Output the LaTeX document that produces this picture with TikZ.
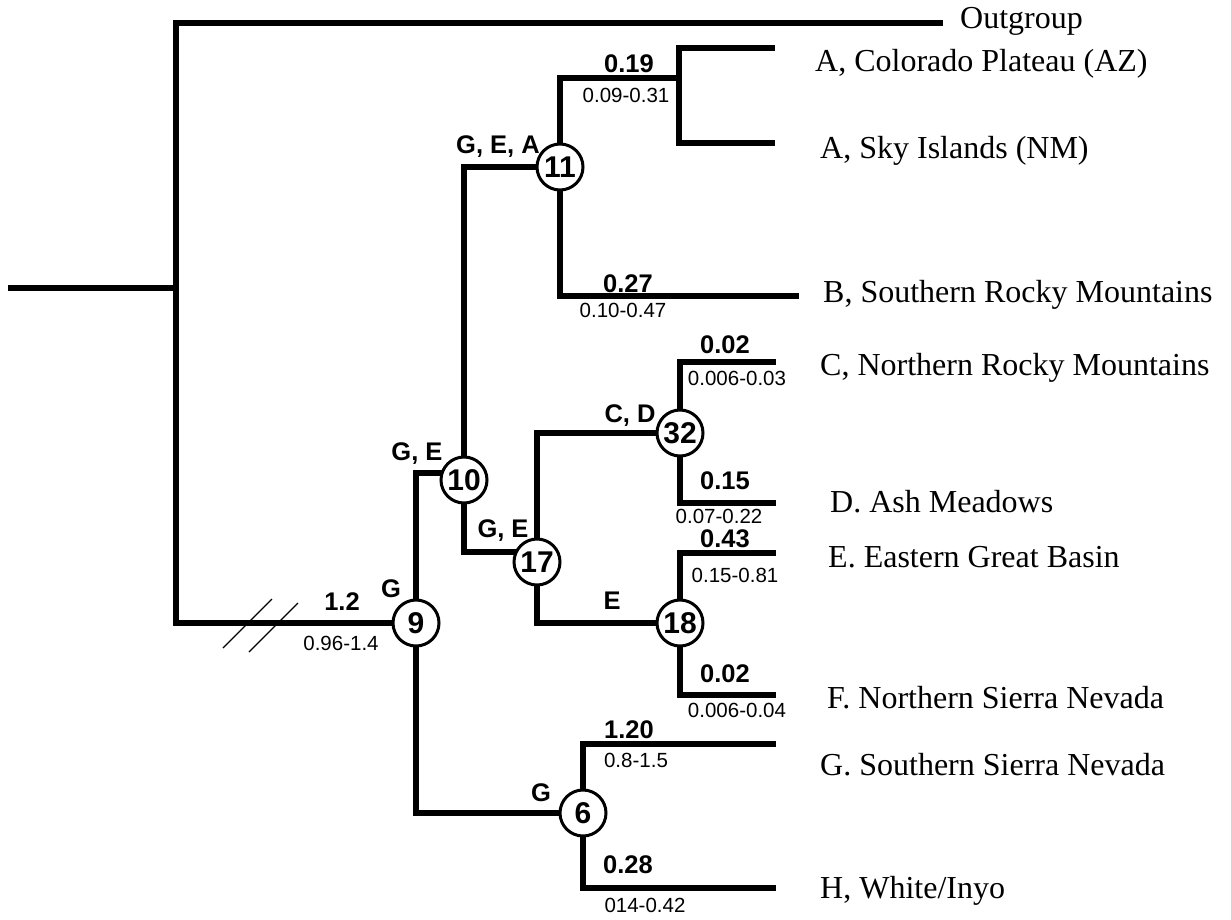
\documentclass[tikz,border=0pt]{standalone}
\usepackage{fontspec}
\setmainfont{Liberation Serif}
\newfontfamily\arialf{Liberation Sans}
\usetikzlibrary{backgrounds}
\begin{document}
\begin{tikzpicture}[x=1pt,y=-1pt,
  branch/.style={line width=5.5pt, line join=miter},
  hatch/.style={line width=1.2pt},
  circ/.style={circle, draw, line width=3pt, fill=white, minimum size=46pt, inner sep=0pt, font=\arialf\bfseries\fontsize{30}{30}\selectfont},
  blen/.style={anchor=base, inner sep=0pt, font=\arialf\bfseries\fontsize{25.5}{25.5}\selectfont},
  brange/.style={anchor=base, inner sep=0pt, font=\arialf\fontsize{20.5}{20.5}\selectfont},
  anc/.style={anchor=base, inner sep=0pt, font=\arialf\bfseries\fontsize{25.5}{25.5}\selectfont},
  taxon/.style={anchor=base west, inner sep=0pt, font=\fontsize{32}{32}\selectfont}]
\useasboundingbox (0,0) rectangle (1231,919);

% internal nodes
\node[circ] (n9)  at (416,623) {9};
\node[circ] (n10) at (464,480) {10};
\node[circ] (n11) at (560,167) {11};
\node[circ] (n17) at (537,562) {17};
\node[circ] (n32) at (680,433) {32};
\node[circ] (n18) at (680,623) {18};
\node[circ] (n6)  at (583,813) {6};

% corner coordinates
\coordinate (root) at (8,288);
\coordinate (rootj) at (176,288);
\coordinate (topc) at (176,23);
\coordinate (botc) at (176,623);
\coordinate (outend) at (943,23);
\coordinate (c9t) at (416,473);
\coordinate (c9b) at (416,813);
\coordinate (c10t) at (464,167);
\coordinate (c10b) at (464,552);
\coordinate (c11t) at (560,78);
\coordinate (c11b) at (560,296);
\coordinate (j19) at (679,78);
\coordinate (j19t) at (679,48);
\coordinate (j19b) at (679,143);
\coordinate (c17t) at (537,433);
\coordinate (c17b) at (537,623);
\coordinate (c32t) at (680,362);
\coordinate (c32b) at (680,503);
\coordinate (c18t) at (680,553);
\coordinate (c18b) at (680,695);
\coordinate (c6t) at (583,744);
\coordinate (c6b) at (583,888);
\coordinate (lA1) at (775,48);
\coordinate (lA2) at (775,143);
\coordinate (lB) at (799,296);
\coordinate (lC) at (776,362);
\coordinate (lD) at (776,503);
\coordinate (lE) at (776,553);
\coordinate (lF) at (776,695);
\coordinate (lG) at (776,744);
\coordinate (lH) at (776,888);
\coordinate (h1a) at (223,648);
\coordinate (h1b) at (272,599);
\coordinate (h2a) at (249,652);
\coordinate (h2b) at (298,603);

\begin{scope}[on background layer]
\draw[branch] (root) -- (rootj);
\draw[branch] (outend) -- (topc) -- (botc) -- (n9.center);
\draw[branch] (c9t -| n10) -- (c9t) -- (c9b) -- (n6.center);
\draw[branch] (n11.center) -- (c10t) -- (c10b) -- (c10b -| n17);
\draw[branch] (j19) -- (c11t) -- (c11b) -- (lB);
\draw[branch] (lA1) -- (j19t) -- (j19b) -- (lA2);
\draw[branch] (n32.center) -- (c17t) -- (c17b) -- (n18.center);
\draw[branch] (lC) -- (c32t) -- (c32b) -- (lD);
\draw[branch] (lE) -- (c18t) -- (c18b) -- (lF);
\draw[branch] (lG) -- (c6t) -- (c6b) -- (lH);
\end{scope}
\draw[hatch] (h1a) -- (h1b);
\draw[hatch] (h2a) -- (h2b);

% branch lengths and ranges
\node[blen] (b19) at (629,72) {0.19};
\node[brange] (r19) at (626,102) {0.09-0.31};
\node[blen] (b27) at (628,292) {0.27};
\node[brange] (r27) at (623,317) {0.10-0.47};
\node[blen] (bC) at (725,353) {0.02};
\node[brange] (rC) at (737,385) {0.006-0.03};
\node[blen] (bD) at (725,489) {0.15};
\node[brange] (rD) at (719,523) {0.07-0.22};
\node[blen] (bE) at (725,547) {0.43};
\node[brange] (rE) at (735,582) {0.15-0.81};
\node[blen] (bF) at (725,682) {0.02};
\node[brange] (rF) at (737,717) {0.006-0.04};
\node[blen] (bG) at (629,738) {1.20};
\node[brange] (rG) at (636,767) {0.8-1.5};
\node[blen] (bH) at (628,873) {0.28};
\node[brange] (rH) at (645,912) {014-0.42};
\node[blen] (b9) at (342,610) {1.2};
\node[brange] (r9) at (341,650) {0.96-1.4};

% ancestral areas
\node[anc] (a11) at (498,153) {G, E, A};
\node[anc] (a10) at (417,460) {G, E};
\node[anc] (a17) at (503,537) {G, E};
\node[anc] (a32) at (630,422) {C, D};
\node[anc] (a18) at (612,609) {E};
\node[anc] (a9) at (391,597) {G};
\node[anc] (a6) at (541,801) {G};

% taxa
\node[taxon] (tO) at (960,28) {Outgroup};
\node[taxon] (tA1) at (815,71) {A, Colorado Plateau (AZ)};
\node[taxon] (tA2) at (820,158) {A, Sky Islands (NM)};
\node[taxon] (tB) at (823,302) {B, Southern Rocky Mountains};
\node[taxon] (tC) at (820,375) {C, Northern Rocky Mountains};
\node[taxon] (tD) at (830,512) {D. Ash Meadows};
\node[taxon] (tE) at (828,567) {E. Eastern Great Basin};
\node[taxon] (tF) at (827,708) {F. Northern Sierra Nevada};
\node[taxon] (tG) at (820,775) {G. Southern Sierra Nevada};
\node[taxon] (tH) at (820,898) {H, White/Inyo};
\end{tikzpicture}
\end{document}
